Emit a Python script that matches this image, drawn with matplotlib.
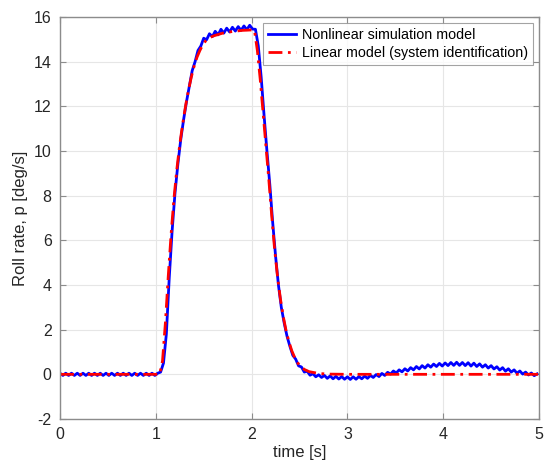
import numpy as np
import matplotlib
matplotlib.use('Agg')
import matplotlib.pyplot as plt

plt.rcParams['font.family'] = ['Liberation Sans', 'DejaVu Sans']
plt.rcParams['axes.unicode_minus'] = False

# nonlinear simulation model, sampled every 0.03 s from t = 0
p_nonlin = [
    0.05, -0.05, 0.05, -0.05, 0.05, -0.05, 0.05, -0.05, 0.05, -0.05,
    0.05, -0.05, 0.05, -0.05, 0.05, -0.05, 0.05, -0.05, 0.05, -0.05,
    0.05, -0.05, 0.05, -0.05, 0.05, -0.05, 0.05, -0.05, 0.05, -0.05,
    0.05, -0.05, 0.05, -0.05, 0.05,
    0.1, 0.5, 1.8, 4.3, 6.4, 8.1, 9.4, 10.5, 11.4, 12.2,
    12.9, 13.6, 14.0, 14.5, 14.7, 15.05, 14.98, 15.25, 15.12, 15.36,
    15.2, 15.45, 15.28, 15.5, 15.33, 15.54, 15.37, 15.57, 15.4, 15.6,
    15.43, 15.63, 15.46, 15.45, 14.7, 13.3, 11.6, 10.0, 8.5, 6.8,
    5.3, 4.0, 3.0, 2.3, 1.7, 1.25, 0.85, 0.68, 0.38, 0.33,
    0.1, 0.14, -0.04, 0.03, -0.11, -0.02, -0.14, -0.05, -0.18, -0.07,
    -0.2, -0.09, -0.21, -0.1, -0.22, -0.11, -0.23, -0.11, -0.22, -0.1,
    -0.2, -0.08, -0.18, -0.05, -0.14, -0.01, -0.1, 0.04, -0.05, 0.09,
    0.01, 0.15, 0.06, 0.2, 0.11, 0.25, 0.15, 0.3, 0.2, 0.35,
    0.24, 0.39, 0.28, 0.43, 0.32, 0.46, 0.35, 0.49, 0.37, 0.51,
    0.39, 0.53, 0.4, 0.54, 0.4, 0.53, 0.39, 0.52, 0.37, 0.5,
    0.35, 0.47, 0.32, 0.43, 0.28, 0.39, 0.24, 0.34, 0.19, 0.3,
    0.14, 0.25, 0.1, 0.2, 0.05, 0.15, 0.01, 0.1, -0.03, 0.06,
    -0.06, 0.02,
]
t_nonlin = np.arange(len(p_nonlin)) * 0.03

# linear model (system identification)
t_lin = [0.0, 1.04, 1.07, 1.10, 1.13, 1.16, 1.19, 1.22, 1.25, 1.28,
         1.31, 1.34, 1.37, 1.40, 1.43, 1.46, 1.49, 1.52, 1.56, 1.60,
         1.70, 1.80, 1.90, 2.00, 2.03, 2.06, 2.09, 2.12, 2.15, 2.18,
         2.21, 2.24, 2.27, 2.30, 2.33, 2.36, 2.39, 2.42, 2.45, 2.48,
         2.51, 2.55, 2.60, 2.70, 2.80, 3.00, 5.00]
p_lin = [0.0, 0.0, 0.6, 2.3, 4.4, 6.3, 7.9, 9.2, 10.3, 11.2,
         12.0, 12.7, 13.3, 13.8, 14.2, 14.5, 14.75, 14.93, 15.07, 15.15,
         15.28, 15.35, 15.4, 15.42, 15.4, 14.5, 13.2, 11.7, 10.2, 8.7,
         7.1, 5.6, 4.4, 3.4, 2.6, 1.95, 1.45, 1.05, 0.75, 0.52,
         0.36, 0.22, 0.12, 0.04, 0.01, 0.0, 0.0]

fig = plt.figure(figsize=(5.46, 4.67), dpi=100)
ax = fig.add_axes([0.1099, 0.1028, 0.8773, 0.8608])

ax.plot(t_nonlin, p_nonlin, color='#0000ff', lw=2, label='Nonlinear simulation model')
ax.plot(t_lin, p_lin, color='#ff0000', lw=2, ls=(0, (5, 2, 1, 2)),
        label='Linear model (system identification)')

ax.set_xlim(0, 5)
ax.set_ylim(-2, 16)
ax.set_xticks(np.arange(0, 6, 1))
ax.set_yticks(np.arange(-2, 17, 2))
ax.grid(True, color='#e6e6e6', lw=0.8)
ax.set_axisbelow(True)

for s in ax.spines.values():
    s.set_color('#8c8c8c')
    s.set_linewidth(1.0)
ax.tick_params(direction='in', top=True, right=True, length=4, color='#8c8c8c',
               labelcolor='#262626', labelsize=11.5, pad=6)

ax.set_xlabel('time [s]', fontsize=12, color='#262626', labelpad=2)
ax.set_ylabel('Roll rate, p [deg/s]', fontsize=12, color='#262626', labelpad=4)

leg = ax.legend(loc='upper right', fontsize=10.3, frameon=True, fancybox=False,
                edgecolor='#8c8c8c', handlelength=2.0, handletextpad=0.4,
                borderpad=0.35, labelspacing=0.3, borderaxespad=0.4)
leg.get_frame().set_linewidth(0.8)

fig.savefig('out.png', dpi=100)
